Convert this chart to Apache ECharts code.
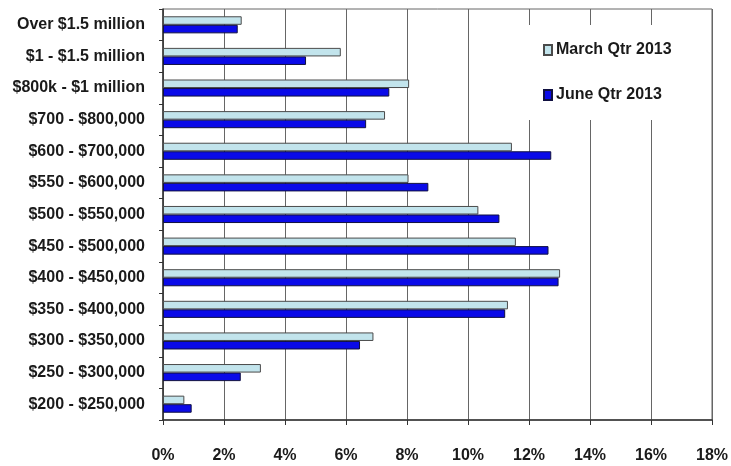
<!DOCTYPE html>
<html>
<head>
<meta charset="utf-8">
<script src="https://cdn.jsdelivr.net/npm/echarts@6/dist/echarts.min.js"></script>
<style>
  html, body { margin: 0; padding: 0; background: #fff; }
  #chart { width: 731px; height: 466px; }
</style>
</head>
<body>
<div id="chart"></div>
<script>
// Price bands, listed from the top of the chart downwards
const priceBands = [
  'Over $1.5 million',
  '$1 - $1.5 million',
  '$800k - $1 million',
  '$700 - $800,000',
  '$600 - $700,000',
  '$550 - $600,000',
  '$500 - $550,000',
  '$450 - $500,000',
  '$400 - $450,000',
  '$350 - $400,000',
  '$300 - $350,000',
  '$250 - $300,000',
  '$200 - $250,000'
];

// Share of sales (%) in each band
const marchQtr2013 = [2.58, 5.83, 8.07, 7.28, 11.44, 8.05, 10.34, 11.57, 13.02, 11.31, 6.90, 3.21, 0.70];
const juneQtr2013  = [2.45, 4.69, 7.42, 6.66, 12.73, 8.70, 11.03, 12.64, 12.97, 11.22, 6.46, 2.55, 0.94];

const seriesNames = ['March Qtr 2013', 'June Qtr 2013'];

const FONT = "'Liberation Sans', Arial, sans-serif";
const TEXT = '#1a1a1a';

const chart = echarts.init(document.getElementById('chart'), null, { renderer: 'canvas' });

chart.setOption({
  animation: false,
  backgroundColor: '#fff',
  grid: {
    left: 163,
    right: 19,
    top: 9,
    bottom: 46,
    show: true,
    borderColor: '#666',
    borderWidth: 1,
    containLabel: false
  },
  legend: {
    orient: 'vertical',
    left: 521,
    top: 25,
    padding: [16, 30, 16, 22],
    backgroundColor: '#fff',
    itemWidth: 8,
    itemHeight: 10,
    itemGap: 27,
    icon: 'rect',
    textStyle: {
      fontFamily: FONT,
      fontSize: 16,
      fontWeight: 'bold',
      color: TEXT,
      lineHeight: 18,
      padding: [0, 0, 0, -1]
    },
    data: seriesNames
  },
  xAxis: {
    type: 'value',
    min: 0,
    max: 18,
    interval: 2,
    axisLine: { show: true, lineStyle: { color: '#333', width: 1.5 } },
    axisTick: { show: true, length: 5, lineStyle: { color: '#333' } },
    splitLine: { show: true, lineStyle: { color: '#666', width: 1 } },
    axisLabel: {
      formatter: '{value}%',
      margin: 28,
      fontFamily: FONT,
      fontSize: 16,
      fontWeight: 'bold',
      color: TEXT
    }
  },
  yAxis: {
    type: 'category',
    inverse: true,
    data: priceBands,
    axisLine: { show: true, lineStyle: { color: '#333', width: 1.5 } },
    axisTick: { show: true, length: 4, interval: 0, lineStyle: { color: '#333' } },
    splitLine: { show: false },
    axisLabel: {
      margin: 18,
      interval: 0,
      fontFamily: FONT,
      fontSize: 16,
      fontWeight: 'bold',
      color: TEXT
    }
  },
  series: [
    {
      name: seriesNames[0],
      type: 'bar',
      data: marchQtr2013,
      barGap: '0%',
      barCategoryGap: '46%',
      itemStyle: { color: '#c2e4ec', borderColor: '#4a4a4a', borderWidth: 1 }
    },
    {
      name: seriesNames[1],
      type: 'bar',
      data: juneQtr2013,
      barGap: '0%',
      barCategoryGap: '46%',
      itemStyle: { color: '#0a0ae8', borderColor: '#101040', borderWidth: 1 }
    }
  ]
});
</script>
</body>
</html>
